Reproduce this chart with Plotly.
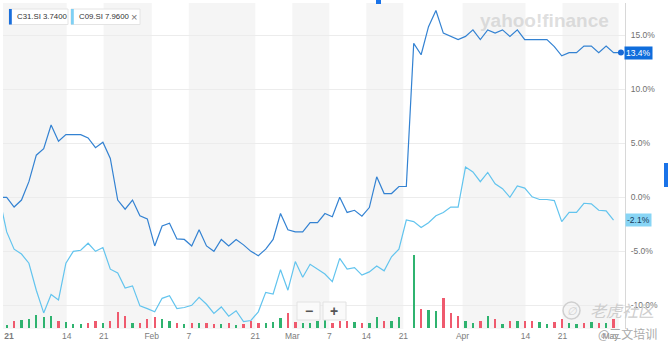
import plotly.graph_objects as go

# ---------------- data ----------------
# trading-day index 0..84 (index 0 = comparison base, 0%)
days = list(range(85))

c31_pct = [0.0, 0.0, -0.9, -0.25, 1.45, 3.9, 4.5, 6.7, 5.2, 5.8,
           5.8, 5.8, 5.5, 4.6, 5.1, 3.6, -0.25, -1.1, -0.25, -1.7,
           -2.0, -4.5, -2.65, -2.4, -3.85, -3.9, -4.5, -3.0, -4.5, -5.0,
           -3.9, -4.5, -3.9, -4.4, -5.0, -5.4, -4.8, -3.9, -1.5, -3.0,
           -3.2, -3.2, -2.35, -2.35, -1.5, -1.8, 0.0, -1.4, -1.2, -1.75,
           -0.95, 1.9, 0.35, 0.35, 1.0, 1.0, 14.25, 13.2, 15.8, 17.3,
           15.2, 14.9, 14.6, 14.9, 15.5, 14.6, 15.5, 15.2, 15.5, 14.9,
           15.5, 14.6, 14.6, 14.6, 14.6, 13.95, 13.1, 13.4, 13.4, 14.0,
           14.0, 13.4, 14.0, 13.4, 13.4]

c09_pct = [0.0, -3.2, -4.8, -5.25, -6.1, -8.6, -10.7, -9.0, -9.5, -6.1,
           -5.0, -4.9, -4.25, -5.0, -4.65, -6.65, -7.0, -8.4, -8.2, -10.05,
           -10.3, -10.6, -9.35, -9.1, -10.3, -10.2, -10.0, -9.25, -9.9, -10.75,
           -10.15, -11.0, -10.5, -11.5, -11.4, -10.6, -8.8, -8.95, -6.7, -8.6,
           -5.95, -7.4, -6.2, -6.65, -7.1, -7.8, -5.65, -6.65, -6.5, -7.2,
           -6.9, -6.35, -6.8, -5.5, -4.8, -2.1, -2.25, -2.8, -2.35, -1.7,
           -1.4, -0.9, -0.9, 2.8, 2.35, 1.45, 2.3, 1.25, 0.8, 0.0,
           1.05, 0.85, 0.05, -0.2, -0.2, -0.3, -2.25, -1.4, -1.4, -0.55,
           -0.6, -1.2, -1.25, -2.1, None]

volume = [None, 2.7, 6.3, 8.0, 8.7, 12.8, 10.3, 12.0, 7.0, 5.5,
          3.3, 3.3, 4.5, 6.5, 5.2, 6.8, 15.3, 12.0, 5.0, 5.2,
          8.8, 11.0, 8.5, 6.3, 5.0, 3.8, 4.6, 5.2, 5.2, 4.2,
          3.3, 4.3, 2.7, 3.7, 7.0, 4.3, 4.3, 6.0, 9.3, 14.3,
          6.0, 5.0, 4.3, 6.7, 7.7, 5.0, 7.0, 6.7, 6.0, 4.3,
          4.3, 10.3, 6.3, 6.3, 11.0, 0.0, 72.7, 18.3, 17.7, 16.7,
          29.7, 14.3, 12.0, 7.0, 5.0, 6.7, 11.7, 8.3, 3.7, 6.7,
          6.7, 6.7, 6.7, 6.0, 3.7, 6.0, 9.0, 5.0, 3.7, 5.0,
          5.7, 5.0, 5.0, 8.3, 0.0]

# 1 = day closed up (green), 0 = down (red)
vol_up = [1, 1, 0, 1, 1, 1, 1, 1, 0, 1,
          1, 1, 0, 0, 1, 0, 0, 0, 1, 0,
          0, 0, 1, 1, 0, 1, 0, 1, 0, 0,
          1, 0, 1, 0, 0, 0, 1, 1, 1, 0,
          0, 1, 1, 1, 1, 0, 0, 0, 1, 0,
          1, 1, 0, 1, 1, 1, 1, 0, 1, 1,
          0, 0, 0, 1, 1, 0, 1, 0, 1, 0,
          1, 0, 0, 1, 1, 0, 0, 1, 1, 0,
          1, 0, 1, 0, 1]

tick_pos = [1.3, 9.1, 14.1, 20.6, 25.6, 34.6, 39.6, 44.6, 49.6, 54.6, 62.6, 71.1, 76.1, 82.6]
tick_text = ["<b>21</b>", "14", "21", "Feb", "7", "21", "Mar", "7", "14", "21", "Apr", "14", "21", "May"]

y_ticks = [-10, -5, 0, 5, 10, 15]

legend_names = ["C31.SI", "C09.SI"]
legend_prices = ["3.7400", "7.9600"]

# ---------------- styling ----------------
W, H = 668, 351
ML, MR, MT, MB = 3, 43, 3, 22
PW, PH = W - ML - MR, H - MT - MB

def fx(px):
    return (px - ML) / PW

def fy(py):
    return (H - MB - py) / PH

DARK = "#3382d2"
LIGHT = "#62c4ee"
GREEN = "#2fb36f"
RED = "#ef5a6e"
FONT = "Liberation Sans, Arial, sans-serif"

fig = go.Figure()

fig.add_trace(go.Bar(
    x=days, y=volume, yaxis="y2", width=0.32,
    marker=dict(color=[GREEN if u else RED for u in vol_up], line=dict(width=0)),
    hoverinfo="skip", showlegend=False))

fig.add_trace(go.Scatter(
    x=days, y=c09_pct, mode="lines", line=dict(color=LIGHT, width=1.2),
    connectgaps=False, showlegend=False, hoverinfo="skip"))

fig.add_trace(go.Scatter(
    x=days, y=c31_pct, mode="lines", line=dict(color=DARK, width=1.2),
    showlegend=False, hoverinfo="skip"))

fig.add_trace(go.Scatter(
    x=[days[-1]], y=[c31_pct[-1]], mode="markers",
    marker=dict(color="#1769d6", size=6), showlegend=False, hoverinfo="skip",
    cliponaxis=False))

shapes = []
for a, b in [(0.5, 9.1), (14.1, 20.6), (25.6, 34.6), (39.6, 44.6),
             (49.6, 54.6), (62.6, 71.1), (76.1, 83.7)]:
    shapes.append(dict(type="rect", xref="x", yref="paper", x0=a, x1=b, y0=0, y1=1,
                       fillcolor="#f5f5f5", line=dict(width=0), layer="below"))

annotations = []

# legend chips
chip_boxes = [(9, 68), (71, 140)]
chip_cols = ["#1a6fdc", "#7fd0f4"]
for (x0, x1), col, name, price in zip(chip_boxes, chip_cols, legend_names, legend_prices):
    shapes.append(dict(type="rect", xref="paper", yref="paper", x0=fx(x0), x1=fx(x1),
                       y0=fy(24.5), y1=fy(9), fillcolor="white",
                       line=dict(color="#e4e4e4", width=1)))
    shapes.append(dict(type="rect", xref="paper", yref="paper", x0=fx(x0), x1=fx(x0 + 2.8),
                       y0=fy(24.5), y1=fy(9), fillcolor=col, line=dict(width=0)))
    annotations.append(dict(xref="paper", yref="paper", x=fx(x0 + 6), y=fy(16.8),
                            xanchor="left", yanchor="middle", showarrow=False,
                            text=f"{name} {price}",
                            font=dict(family=FONT, size=7.8, color="#333")))
annotations.append(dict(xref="paper", yref="paper", x=fx(134), y=fy(16.8),
                        xanchor="center", yanchor="middle", showarrow=False, text="×",
                        font=dict(family=FONT, size=11, color="#777")))

# last-value badges
annotations.append(dict(xref="paper", yref="y", x=fx(624), y=c31_pct[-1],
                        xanchor="left", yanchor="middle", showarrow=False,
                        text=f"{c31_pct[-1]:.1f}%", bgcolor="#0f6ddc", borderpad=1,
                        font=dict(family=FONT, size=8.5, color="white")))
last_c09 = [v for v in c09_pct if v is not None][-1]
annotations.append(dict(xref="paper", yref="y", x=fx(625), y=last_c09,
                        xanchor="left", yanchor="middle", showarrow=False,
                        text=f"{last_c09:.1f}%", bgcolor="#88d5f5", borderpad=1,
                        font=dict(family=FONT, size=8.5, color="#17395a")))

# yahoo watermark
annotations.append(dict(xref="paper", yref="paper", x=fx(544), y=fy(20),
                        xanchor="center", yanchor="middle", showarrow=False,
                        text="<b>yahoo!finance</b>",
                        font=dict(family=FONT, size=19, color="rgba(195,195,195,0.55)")))

# zoom buttons
for x0, x1, t in [(297, 320, "−"), (323, 346, "+")]:
    shapes.append(dict(type="rect", xref="paper", yref="paper", x0=fx(x0), x1=fx(x1),
                       y0=fy(320), y1=fy(302), fillcolor="rgba(250,250,250,0.95)",
                       line=dict(color="#e2e2e2", width=1)))
    annotations.append(dict(xref="paper", yref="paper", x=fx((x0 + x1) / 2), y=fy(311),
                            xanchor="center", yanchor="middle", showarrow=False,
                            text=f"<b>{t}</b>",
                            font=dict(family=FONT, size=14, color="#555")))

# community watermark
shapes.append(dict(type="circle", xref="paper", yref="paper", x0=fx(563), x1=fx(580),
                   y0=fy(319), y1=fy(302), line=dict(color="#cfcfcf", width=1.5)))
annotations.append(dict(xref="paper", yref="paper", x=fx(571.5), y=fy(310.5),
                        xanchor="center", yanchor="middle", showarrow=False,
                        text="<i>∅</i>", font=dict(family=FONT, size=11, color="#cfcfcf")))
annotations.append(dict(xref="paper", yref="paper", x=fx(623), y=fy(310),
                        xanchor="center", yanchor="middle", showarrow=False,
                        text="<i>老虎社区</i>",
                        font=dict(family="Noto Sans CJK SC", size=16, color="#cdcdcd")))
annotations.append(dict(xref="paper", yref="paper", x=fx(627), y=fy(334),
                        xanchor="center", yanchor="middle", showarrow=False,
                        text="@三文培训",
                        font=dict(family="Noto Sans CJK SC", size=12, color="#a9a9a9")))

# partially visible UI elements
shapes.append(dict(type="rect", xref="paper", yref="paper", x0=fx(664), x1=fx(668),
                   y0=fy(187), y1=fy(163), fillcolor="#1a73e8", line=dict(width=0)))
shapes.append(dict(type="rect", xref="paper", yref="paper", x0=fx(376), x1=fx(381),
                   y0=fy(4), y1=fy(0), fillcolor="#1a73e8", line=dict(width=0)))

fig.update_layout(
    width=W, height=H,
    margin=dict(l=ML, r=MR, t=MT, b=MB, pad=0),
    paper_bgcolor="white", plot_bgcolor="white",
    font=dict(family=FONT, size=8.5, color="#777"),
    showlegend=False,
    bargap=0,
    xaxis=dict(range=[0.5, 84.55], tickmode="array", tickvals=tick_pos, ticktext=tick_text,
               showgrid=False, zeroline=False, showline=False, ticks="",
               tickfont=dict(family=FONT, size=8.5, color="#7b7b7b")),
    yaxis=dict(range=[-12.19, 17.99], side="right", tickmode="array",
               tickvals=y_ticks, ticktext=[f"{v:.1f}%" for v in y_ticks],
               showgrid=True, gridcolor="#ececec", gridwidth=1, zeroline=False,
               showline=True, linecolor="#d8d8d8", linewidth=1,
               ticks="outside", ticklen=3, tickcolor="rgba(0,0,0,0)",
               tickfont=dict(family=FONT, size=8.5, color="#707070")),
    yaxis2=dict(range=[-1.3, 324.7], overlaying="y", visible=False),
    shapes=shapes,
    annotations=annotations,
)

fig.write_html("out.html")
